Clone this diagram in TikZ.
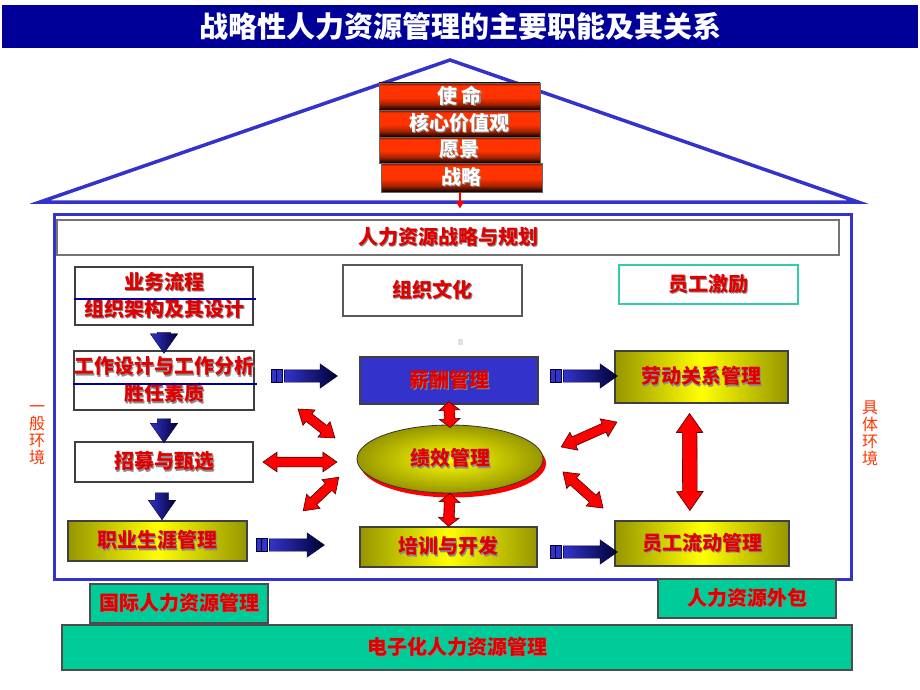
\documentclass[tikz,border=0pt]{standalone}
\usepackage{fontspec}
\setmainfont{Noto Sans CJK SC}
\usetikzlibrary{positioning,shapes.arrows,shapes.geometric,arrows.meta}

\definecolor{titleblue}{RGB}{0,0,153}
\definecolor{roofblue}{RGB}{51,51,204}
\definecolor{navyd}{RGB}{0,0,51}
\definecolor{olv}{RGB}{150,150,0}
\definecolor{tealg}{RGB}{0,204,153}
\definecolor{tealline}{RGB}{51,204,170}
\definecolor{txtred}{RGB}{225,0,0}
\definecolor{envred}{RGB}{255,51,0}
\definecolor{barred}{RGB}{255,51,0}

% dark bottom, bright band, dark top edge
\pgfdeclareverticalshading{redbarshade}{100bp}{color(0bp)=(black); color(25bp)=(black);
  color(36bp)=(barred!65!black); color(48bp)=(barred); color(70bp)=(barred);
  color(75bp)=(barred!40!black); color(100bp)=(barred!40!black)}

% text with a grey drop shadow
\newcommand\shd[1]{\rlap{\kern1.4pt\raisebox{-1.4pt}{\textcolor{black!45}{#1}}}#1}

\begin{document}
\begin{tikzpicture}[
  x=1pt,y=-1pt,
  every node/.style={inner sep=0pt,align=center},
  box/.style={
    rectangle,
    draw=black!75,
    line width=1.2pt,
    fill=white,
    text=txtred,
    font=\fontsize{20}{27}\selectfont\bfseries,
  },
  yelbox/.style={box,left color=olv,right color=olv,middle color=yellow},
  tealbox/.style={box,fill=tealg,draw=black!70},
  redbar/.style={
    rectangle,
    draw=black!60,
    line width=0.8pt,
    minimum width=161pt,
    shading=redbarshade,
    text=white,
    font=\fontsize{20}{24}\selectfont\bfseries,
  },
  envtext/.style={text=envred,font=\fontsize{16}{17}\selectfont},
  bluearrow/.style={
    single arrow,
    draw=navyd,
    line width=0.4pt,
    inner xsep=0pt,
    inner ysep=6pt,
    single arrow head extend=6pt,
    single arrow tip angle=70,
    left color=roofblue,
    right color=navyd,
  },
  downarrow/.style={bluearrow,sloped,inner ysep=6.5pt,single arrow head extend=7pt},
  bluebars/.style={
    rectangle,
    fill=roofblue,
    draw=navyd,
    line width=0.6pt,
    minimum width=11pt,
    minimum height=13pt,
    path picture={\draw[navyd,line width=1pt] (path picture bounding box.north) -- (path picture bounding box.south);},
  },
  redarrow/.style={
    double arrow,
    sloped,
    draw=black!70!red,
    line width=0.6pt,
    fill=red,
    inner xsep=0pt,
    inner ysep=4.5pt,
    double arrow head extend=5pt,
    double arrow tip angle=70,
  },
  ]
  \useasboundingbox (0,0) rectangle (920,690);

  % title
  \node[fill=titleblue,minimum width=916pt,minimum height=43pt,text=white,
    font=\fontsize{29}{32}\selectfont\bfseries] (title) at (460,26.5)
    {战略性人力资源管理的主要职能及其关系};

  % roof and frame
  \draw[roofblue,line width=3.5pt,line join=miter] (40,202) -- (450,60) -- (858,202) -- cycle;
  \node[draw=roofblue,line width=3pt,minimum width=797pt,minimum height=365pt] (frame) at (452.5,396.5) {};

  % mission stack
  \node[redbar,minimum height=27pt] (mission) at (459.5,96.5) {\shd{使\ 命}};
  \node[redbar,minimum height=27pt] (values) at (459.5,123.5) {\shd{核心价值观}};
  \node[redbar,minimum height=26pt] (vision) at (459.5,150) {\shd{愿景}};
  \node[redbar,minimum height=29pt] (strat) at (461.5,177.5) {\shd{战略}};
  \coordinate (stratend) at ([xshift=-1.5pt,yshift=-16pt]strat.south);
  \draw[red,line width=1.5pt,-{Triangle[length=7pt,width=8pt]}] ([xshift=-1.5pt]strat.south) -- (stratend);

  \node[box,draw=black!55,line width=2pt,minimum width=782pt,minimum height=35pt] (plan) at (448,237.5)
    {\shd{人力资源战略与规划}};

  % left column
  \node[box,minimum width=178pt,minimum height=58pt] (proc) at (164,296)
    {\shd{业务流程}\\\shd{组织架构及其设计}};
  \draw[titleblue,line width=2pt] ([yshift=-3pt]proc.west) -- ([xshift=2pt,yshift=-3pt]proc.east);
  \node[box,minimum width=178pt,minimum height=59pt] (jobd) at (164,380.5)
    {\shd{工作设计与工作分析}\\\shd{胜任素质}};
  \draw[titleblue,line width=2pt] ([yshift=-3.5pt]jobd.west) -- ([xshift=2pt,yshift=-3.5pt]jobd.east);
  \node[box,minimum width=178pt,minimum height=40pt] (recr) at (164,462) {\shd{招募与甄选}};
  \node[yelbox,minimum width=179pt,minimum height=40pt] (career) at (157.5,541) {\shd{职业生涯管理}};

  \path (proc.south) -- node[downarrow,minimum height=21pt] (d1) {} (jobd.north);
  \path (jobd.south) -- node[downarrow,minimum height=24pt] (d2) {} (recr.north);
  \path ([xshift=-2pt]recr.south) -- node[downarrow,minimum height=27pt] (d3) {} ([xshift=-2pt]recr.south |- career.north);

  % middle and right
  \node[box,draw=black!65,minimum width=179pt,minimum height=51pt] (cult) at (432.5,290.5) {\shd{组织文化}};
  \node[fill=black!12,minimum width=5pt,minimum height=6pt] (dot) at (460,342) {};
  \node[box,draw=tealline,minimum width=179pt,minimum height=39pt] (motiv) at (708.5,284.5) {\shd{员工激励}};
  \node[box,fill=roofblue,minimum width=178pt,minimum height=47pt] (pay) at (449,380.5) {\shd{薪酬管理}};
  \node[yelbox,minimum width=173pt,minimum height=52pt] (labor) at (701.5,377) {\shd{劳动关系管理}};
  \node[ellipse,fill=red,minimum width=186pt,minimum height=68pt] (perfshade) at (453,463.5) {};
  \node[ellipse,draw=black!80,line width=0.8pt,minimum width=186pt,minimum height=68pt,
    inner color=yellow,outer color=olv,text=txtred,font=\fontsize{20}{24}\selectfont\bfseries] (perf) at (450,459)
    {\shd{绩效管理}};
  \node[yelbox,minimum width=177pt,minimum height=40pt] (train) at (448.5,547) {\shd{培训与开发}};
  \node[yelbox,minimum width=174pt,minimum height=45pt] (flow) at (702,543.5) {\shd{员工流动管理}};

  % blue arrows
  \node[bluearrow,minimum height=53pt] (r1) at (306.5,376) {};
  \node[bluebars,left=2pt of r1] (r1t) {};
  \node[bluearrow,minimum height=54pt] (r2) at (586,376) {};
  \node[bluebars,left=2pt of r2] (r2t) {};
  \node[bluearrow,minimum height=55pt] (r3) at (292.5,545) {};
  \node[bluebars,left=2pt of r3] (r3t) {};
  \node[bluearrow,minimum height=54pt] (r4) at (586,552) {};
  \node[bluebars,left=2pt of r4] (r4t) {};

  % red double arrows
  \coordinate (ul1) at (298,409);
  \coordinate (ul2) at (335,438);
  \coordinate (ll1) at (303,511);
  \coordinate (ll2) at (339,477);
  \coordinate (ur1) at (561,447);
  \coordinate (ur2) at (617,422);
  \coordinate (lr1) at (563,472);
  \coordinate (lr2) at (603,508);
  \coordinate (lab1) at ([xshift=-12pt]labor.south);
  \coordinate (lab2) at ([xshift=-12pt]flow.north);
  \path (pay.south) -- node[redarrow,minimum height=26pt,inner ysep=5pt,double arrow tip angle=100] (v1) {} (perf.north);
  \path (perf.south) -- node[redarrow,minimum height=33pt,inner ysep=5pt,double arrow tip angle=100] (v2) {} (train.north);
  \path (lab1) -- node[redarrow,minimum height=97pt,inner ysep=7pt,double arrow head extend=6pt] (v3) {} (lab2);
  \path (recr.east) -- node[redarrow,pos=0.45,minimum height=74pt] (h1) {} (recr.east -| perf.west);
  \path (ul1) -- node[redarrow,minimum height=47pt] (dul) {} (ul2);
  \path (ll1) -- node[redarrow,minimum height=49pt] (dll) {} (ll2);
  \path (ur1) -- node[redarrow,minimum height=61pt] (dur) {} (ur2);
  \path (lr1) -- node[redarrow,minimum height=54pt] (dlr) {} (lr2);

  % environment
  \node[envtext] (genv) at (37,435) {一\\般\\环\\境};
  \node[envtext] (senv) at (870,433) {具\\体\\环\\境};

  % bottom
  \node[tealbox,minimum width=178pt,minimum height=39pt] (intl) at (179,603.5) {\shd{国际人力资源管理}};
  \node[tealbox,minimum width=178pt,minimum height=39pt] (outs) at (747,598.5) {\shd{人力资源外包}};
  \node[tealbox,minimum width=790pt,minimum height=45pt] (ehr) at (457,647.5) {\shd{电子化人力资源管理}};
\end{tikzpicture}
\end{document}
